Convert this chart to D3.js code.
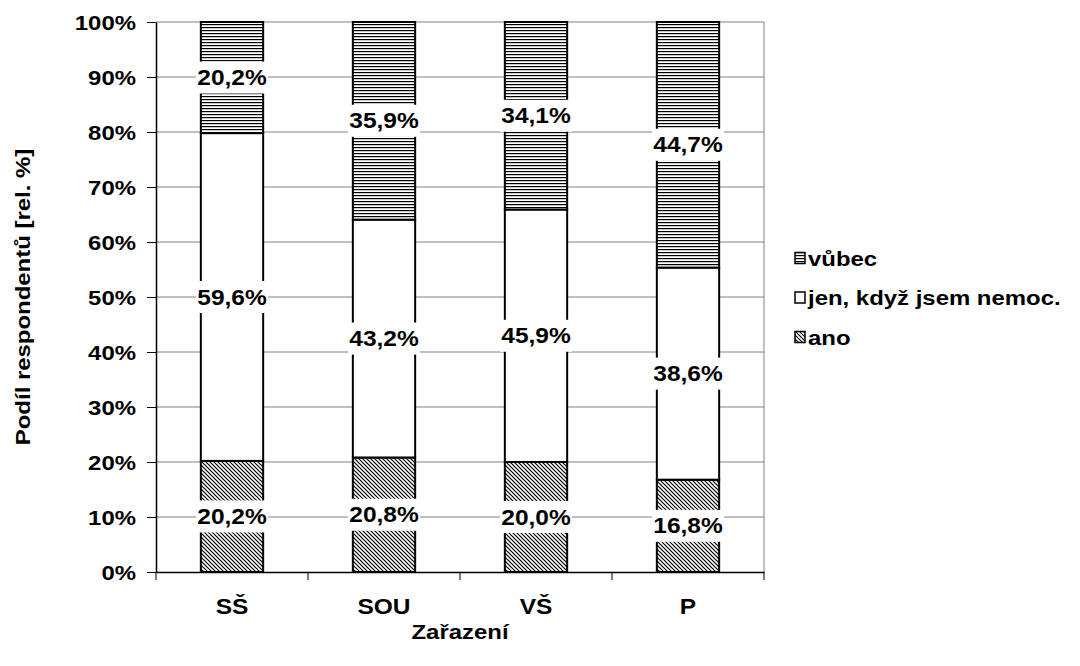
<!DOCTYPE html>
<html><head><meta charset="utf-8">
<script src="https://cdn.jsdelivr.net/npm/d3@7"></script>
<style>
body{margin:0;background:#fff;}
text{font-family:"Liberation Sans",Arial,sans-serif;font-weight:bold;fill:#000;}
</style></head>
<body><svg id="c" width="1080" height="666"></svg>
<script>
const categories = ["SŠ","SOU","VŠ","P"];
const seriesNames = ["ano","jen, když jsem nemoc.","vůbec"];
const ano = [20.2, 20.8, 20.0, 16.8];
const jen = [59.6, 43.2, 45.9, 38.6];
const vubec = [20.2, 35.9, 34.1, 44.7];
const yTicks = [0,10,20,30,40,50,60,70,80,90,100];
const legendOrder = ["vůbec","jen, když jsem nemoc.","ano"];

const SX = 1.14;
const fmt = v => v.toFixed(1).replace(".", ",") + "%";
const svg = d3.select("#c");
const defs = svg.append("defs");
const ph = defs.append("pattern").attr("id","pH").attr("patternUnits","userSpaceOnUse").attr("width",6).attr("height",3);
ph.append("rect").attr("width",6).attr("height",3).attr("fill","#fff");
ph.append("rect").attr("y",0).attr("width",6).attr("height",1.2).attr("fill","#000");
const pd = defs.append("pattern").attr("id","pD").attr("patternUnits","userSpaceOnUse").attr("width",4).attr("height",4);
pd.append("rect").attr("width",4).attr("height",4).attr("fill","#fff");
pd.append("path").attr("d","M-1,-1 L5,5 M-1,3 L1,5 M3,-1 L5,1").attr("stroke","#000").attr("stroke-width",1.2);

const fills = {"ano":"url(#pD)","jen, když jsem nemoc.":"#fff","vůbec":"url(#pH)"};
const L=156, R=764, T=22, B=572;
const x = d3.scaleBand().domain(categories).range([L,R]).paddingInner(0).paddingOuter(0);
const y = d3.scaleLinear().domain([0,100]).range([B,T]);
const barW = x.bandwidth()*0.41;

svg.append("g").selectAll("line").data(yTicks.filter(d=>d>0)).join("line")
  .attr("x1",L).attr("x2",R).attr("y1",d=>y(d)).attr("y2",d=>y(d))
  .attr("stroke","#808080").attr("stroke-width",1);
svg.append("line").attr("x1",R).attr("x2",R).attr("y1",T).attr("y2",B).attr("stroke","#808080");

const rows = categories.map((c,i)=>{
  const o={cat:c}; o["ano"]=ano[i]; o["jen, když jsem nemoc."]=jen[i]; o["vůbec"]=vubec[i]; return o;
});
const stack = d3.stack().keys(seriesNames).offset(d3.stackOffsetExpand);
const st = stack(rows);
const gBars = svg.append("g");
st.forEach(layer=>{
  gBars.selectAll(null).data(layer).join("rect")
    .attr("x",d=>x(d.data.cat)+(x.bandwidth()-barW)/2)
    .attr("width",barW)
    .attr("y",d=>y(d[1]*100)).attr("height",d=>y(d[0]*100)-y(d[1]*100))
    .attr("fill",fills[layer.key]).attr("stroke","#000").attr("stroke-width",2);
});
const gLab = svg.append("g");
st.forEach(layer=>{
  layer.forEach(d=>{
    const cx = x(d.data.cat)+x.bandwidth()/2;
    const cy = y((d[0]+d[1])/2*100);
    gLab.append("rect").attr("x",cx-36).attr("y",cy-16).attr("width",72).attr("height",32).attr("fill","#fff");
    gLab.append("text").attr("text-anchor","middle").attr("font-size",21.5)
      .attr("transform",`translate(${cx},${cy+7.5}) scale(${SX},1)`).text(fmt(d.data[layer.key]));
  });
});

const ya = svg.append("g").attr("transform",`translate(${L},0)`)
  .call(d3.axisLeft(y).tickValues(yTicks).tickFormat(d=>d+"%").tickSize(9).tickSizeOuter(0));
ya.select(".domain").attr("stroke","#000").attr("stroke-width",1.5);
ya.selectAll(".tick line").attr("stroke","#000");
ya.selectAll(".tick text").attr("x",null).attr("dy",null).attr("font-size",21).attr("font-family",null)
  .attr("transform",`translate(-20,7.5) scale(${SX},1)`);
const xa = svg.append("g").attr("transform",`translate(0,${B})`)
  .call(d3.axisBottom(x).tickSize(0).tickSizeOuter(0));
xa.select(".domain").attr("stroke","#000").attr("stroke-width",1.5);
xa.selectAll(".tick text").attr("y",null).attr("dy",null).attr("font-size",21.5).attr("font-family",null)
  .attr("transform",`translate(0,42) scale(${SX},1)`);
const bounds = categories.map(c=>x(c)).concat([R]);
svg.append("g").selectAll("line").data(bounds).join("line")
  .attr("x1",d=>d).attr("x2",d=>d).attr("y1",B).attr("y2",B+8).attr("stroke","#000");

svg.append("text").attr("text-anchor","middle").attr("font-size",21)
  .attr("transform",`translate(${(L+R)/2},639) scale(${SX},1)`).text("Zařazení");
svg.append("text").attr("text-anchor","middle").attr("font-size",21)
  .attr("transform",`translate(30,297) rotate(-90) scale(${SX},1)`).text("Podíl respondentů [rel. %]");

const lg = svg.append("g");
legendOrder.forEach((k,i)=>{
  const ly = 258 + i*39.5;
  lg.append("rect").attr("x",795).attr("y",ly-5.5).attr("width",10).attr("height",11)
    .attr("fill",fills[k]).attr("stroke","#000").attr("stroke-width",1.5);
  lg.append("text").attr("font-size",21)
    .attr("transform",`translate(808,${ly+7.5}) scale(${SX},1)`).text(k);
});
</script></body></html>
